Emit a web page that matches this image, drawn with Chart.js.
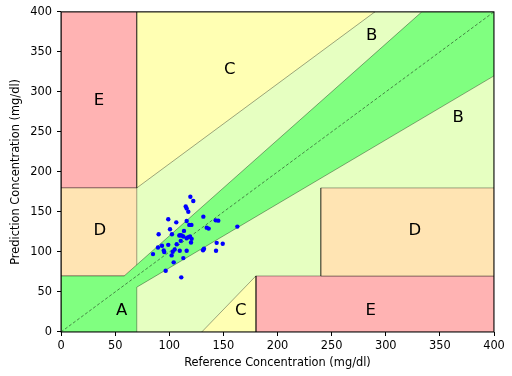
<!DOCTYPE html>
<html><head><meta charset="utf-8">
<script src="https://cdn.jsdelivr.net/npm/chart.js@4/dist/chart.umd.min.js"></script>
<style>html,body{margin:0;padding:0;background:#fff}</style>
</head><body>
<canvas id="c" width="512" height="376"></canvas>
<script>
// ---- data ----
const refValues = [119.5,122.2,115.2,116.1,117.6,99.1,106.5,116.1,118.5,120.5,131.5,134.6,136.4,142.9,145.3,162.9,100.7,90.2,102.5,109.3,111.5,113.0,113.6,116.1,119.2,120.7,120.1,110.6,106.9,99.1,93.3,89.6,94.9,95.4,105.0,103.2,109.7,116.1,102.2,85.0,104.1,113.0,96.7,111.1,131.2,132.1,143.2,143.8,149.4,110.2,117.5];
const predValues = [169.0,163.6,156.9,154.4,150.3,140.8,137.0,138.7,133.8,133.8,144.1,130.4,129.2,139.5,139.1,131.7,128.3,122.1,122.1,120.5,120.5,119.3,126.3,117.1,119.3,116.4,111.8,113.9,109.7,108.9,107.7,105.6,101.9,99.8,103.1,100.2,101.5,101.5,95.7,97.3,87.0,92.3,76.6,68.3,102.2,104.0,101.5,111.4,110.2,121.0,118.5];
const axisTicks = [0,50,100,150,200,250,300,350,400];
// zone polygons (data units)
const zoneBg  = [[0,0],[400,0],[400,400],[0,400],[0,0]];
const zoneA   = [[0,0],[70,0],[70,56],[400,320],[400,400],[333.33,400],[58.33,70],[0,70],[0,0]];
const zoneCup = [[70,180],[290,400],[70,400],[70,180]];
const zoneClo = [[130,0],[180,70],[180,0],[130,0]];
const zoneDl  = [[0,70],[70,70],[70,180],[0,180],[0,70]];
const zoneDr  = [[240,70],[400,70],[400,180],[240,180],[240,70]];
const zoneEul = [[0,180],[70,180],[70,400],[0,400],[0,180]];
const zoneElr = [[180,0],[400,0],[400,70],[180,70],[180,0]];
const identityLine = [[0,0],[400,400]];
const zoneLabels = ['A','B','B','C','C','D','D','E','E'];
const zoneLabelX = [56,287,367,156,166,36,327,35,286];
const zoneLabelY = [26,370,268,328,26,126,126,289,26];

const toPts = arr => arr.map(p => ({x:p[0], y:p[1]}));
const edge = 'rgba(0,0,0,0.45)';
function zone(pts, color, order){
  return {type:'scatter', data:toPts(pts), showLine:true, fill:'shape', backgroundColor:color,
          borderColor:edge, borderWidth:0.8, pointRadius:0, order:order};
}

const labelPlugin = {
  id:'labels',
  afterDatasetsDraw(chart){
    const {ctx, scales:{x,y}, chartArea:a} = chart;
    ctx.save();
    ctx.font = '16.5px "DejaVu Sans"';
    ctx.fillStyle = '#000';
    ctx.textAlign = 'center'; ctx.textBaseline = 'middle';
    zoneLabels.forEach((t,i)=>ctx.fillText(t, x.getPixelForValue(zoneLabelX[i]), y.getPixelForValue(zoneLabelY[i])));
    ctx.strokeStyle = '#000'; ctx.lineWidth = 1;
    ctx.strokeRect(a.left, a.top, a.right-a.left, a.bottom-a.top);
    ctx.restore();
  }
};

const tickFont = {family:'"DejaVu Sans"', size:11.4};
new Chart(document.getElementById('c'), {
  type:'scatter',
  data:{datasets:[
    {data: refValues.map((v,i)=>({x:v, y:predValues[i]})), backgroundColor:'#0000ff', borderWidth:0, pointRadius:2.2, order:0},
    {type:'scatter', data:toPts(identityLine), showLine:true, borderColor:'rgba(0,0,0,0.8)', borderWidth:0.6, borderDash:[3,2], pointRadius:0, fill:false, order:1},
    zone(zoneA, '#80ff80', 2),
    zone(zoneCup, '#ffffb3', 3),
    zone(zoneClo, '#ffffb3', 3),
    zone(zoneDl, '#ffe4b3', 3),
    zone(zoneDr, '#ffe4b3', 3),
    zone(zoneEul, '#ffb3b3', 3),
    zone(zoneElr, '#ffb3b3', 3),
    zone(zoneBg, '#e6ffc1', 4)
  ]},
  options:{
    responsive:false, animation:false, devicePixelRatio:1,
    layout:{padding:{top:9,right:18,left:0,bottom:0}},
    plugins:{legend:{display:false}, tooltip:{enabled:false}},
    scales:{
      x:{type:'linear', min:0, max:400, afterBuildTicks:s=>{s.ticks=axisTicks.map(v=>({value:v}));},
         afterFit:s=>{s.height=44;},
         grid:{drawOnChartArea:false, tickLength:4, color:'#000'}, border:{display:false},
         ticks:{font:tickFont, color:'#000', padding:3, maxRotation:0},
         title:{display:true, text:'Reference Concentration (mg/dl)', font:tickFont, color:'#000', padding:{top:0,bottom:6.5}}},
      y:{type:'linear', min:0, max:400, afterBuildTicks:s=>{s.ticks=axisTicks.map(v=>({value:v}));},
         afterFit:s=>{s.width=61;},
         grid:{drawOnChartArea:false, tickLength:4, color:'#000'}, border:{display:false},
         ticks:{font:tickFont, color:'#000', padding:5},
         title:{display:true, text:'Prediction Concentration (mg/dl)', font:tickFont, color:'#000', padding:{top:9,bottom:0}}}
    }
  },
  plugins:[labelPlugin]
});
</script>
</body></html>
